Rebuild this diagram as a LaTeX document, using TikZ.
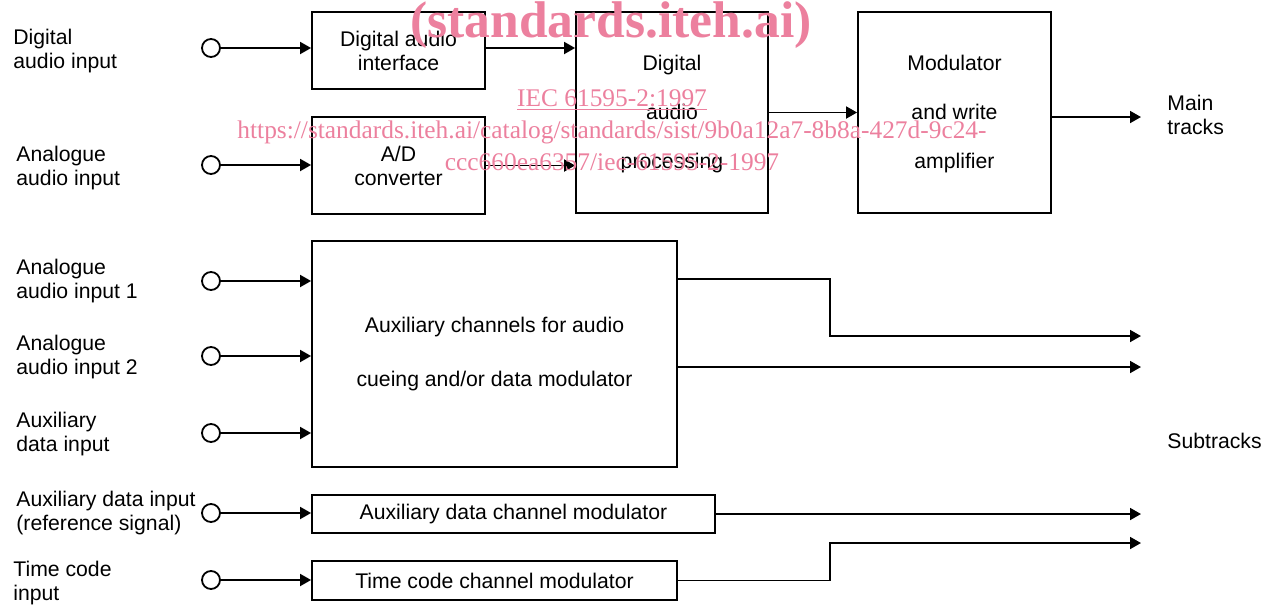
\documentclass[tikz,border=0pt]{standalone}
\usepackage{fontspec}
\setmainfont{Liberation Sans}
\newfontfamily\wmfont{Liberation Serif}
\usetikzlibrary{arrows.meta}
\definecolor{wmpink}{RGB}{236,128,158}
\newcommand{\px}{0.5pt}
\tikzset{
  blk/.style={draw,line width=0.9pt,align=center,inner sep=0pt},
  port/.style={draw,circle,line width=0.9pt,minimum size=9pt,inner sep=0pt},
  lbl/.style={align=left,anchor=west,inner sep=0pt},
  arr/.style={line width=0.9pt,-{Triangle[length=5.5pt,width=6pt]}},
  wm/.style={text=wmpink,inner sep=0pt,anchor=base}
}
\begin{document}
\begin{tikzpicture}[x=0.5pt,y=-0.5pt,font=\fontsize{10.6}{12}\selectfont,line join=miter]
\useasboundingbox (0,0) rectangle (1276,606);
% blocks
\node[blk,minimum width=173*\px,minimum height=77*\px] (dai) at (398.5,50.5) {Digital audio\\interface};
\node[blk,minimum width=173*\px,minimum height=97*\px] (adc) at (398.5,165.5) {A/D\\converter};
\node[blk,minimum width=192*\px,minimum height=201*\px] (dap) at (672,112.5) {};
\node[align=center] (daptxt) at (672,114.5) {Digital\\[12.5pt]audio\\[12.5pt]processing};
\node[blk,minimum width=193*\px,minimum height=201*\px] (mod) at (954.5,112.5) {};
\node[align=center] (modtxt) at (954.5,114.5) {Modulator\\[12.5pt]and write\\[12.5pt]amplifier};
\node[blk,minimum width=365*\px,minimum height=226*\px] (aux) at (494.5,354) {Auxiliary channels for audio\\[15pt]cueing and/or data modulator};
\node[blk,minimum width=403*\px,minimum height=38*\px] (adm) at (513.5,514) {Auxiliary data channel modulator};
\node[blk,minimum width=365*\px,minimum height=39*\px] (tcm) at (494.5,580.5) {Time code channel modulator};
% input ports
\foreach \n/\y in {1/48,2/165,3/281,4/356,5/433,6/513,7/580}
  \node[port] (in\n) at (211,\y) {};
% input labels
\node[lbl] (l1) at (13,51) {Digital\\audio input};
\node[lbl] (l2) at (16,168) {Analogue\\audio input};
\node[lbl] (l3) at (16,281) {Analogue\\audio input 1};
\node[lbl] (l4) at (16,357) {Analogue\\audio input 2};
\node[lbl] (l5) at (16,434) {Auxiliary\\data input};
\node[lbl] (l6) at (16,513) {Auxiliary data input\\(reference signal)};
\node[lbl] (l7) at (13,583) {Time code\\input};
\node[lbl] (lmain) at (1167,115) {Main\\tracks};
\node[lbl] (lsub) at (1167,441) {Subtracks};
% free ends
\coordinate (mainend) at (1141,117);
\coordinate (sub1) at (1141,336);
\coordinate (sub2) at (1141,367);
\coordinate (sub3) at (1141,514);
\coordinate (sub4) at (1141,543);
% connectors
\draw[arr] (in1) -- (in1 -| dai.west);
\draw[arr] (in2) -- (in2 -| adc.west);
\foreach \n in {3,4,5}
  \draw[arr] (in\n) -- (in\n -| aux.west);
\draw[arr] (in6) -- (in6 -| adm.west);
\draw[arr] (in7) -- (in7 -| tcm.west);
\draw[arr] (dai.east |- in1) -- (in1 -| dap.west);
\draw[arr] (adc.east) -- (adc.east -| dap.west);
\draw[arr] (dap.east) -- (mod.west);
\draw[arr] (mod.east |- mainend) -- (mainend);
\draw[arr] (aux.east |- 0,279) -| (830,336) -- (sub1);
\draw[arr] (aux.east |- sub2) -- (sub2);
\draw[arr] (adm.east) -- (sub3);
\draw[arr] (tcm.east) -| (830,543) -- (sub4);
% watermark
\node[wm,font=\wmfont\bfseries\fontsize{25.8}{28}\selectfont] (wm1) at (611,37) {(standards.iteh.ai)};
\node[wm,font=\wmfont\fontsize{12.7}{14}\selectfont] (wm2) at (612,106) {\underline{IEC 61595-2:1997}};
\node[wm,font=\wmfont\fontsize{12.7}{14}\selectfont] (wm3) at (612,138) {https://standards.iteh.ai/catalog/standards/sist/9b0a12a7-8b8a-427d-9c24-};
\node[wm,font=\wmfont\fontsize{12.7}{14}\selectfont] (wm4) at (612,170) {ccc660ea6357/iec-61595-2-1997};
\end{tikzpicture}
\end{document}
